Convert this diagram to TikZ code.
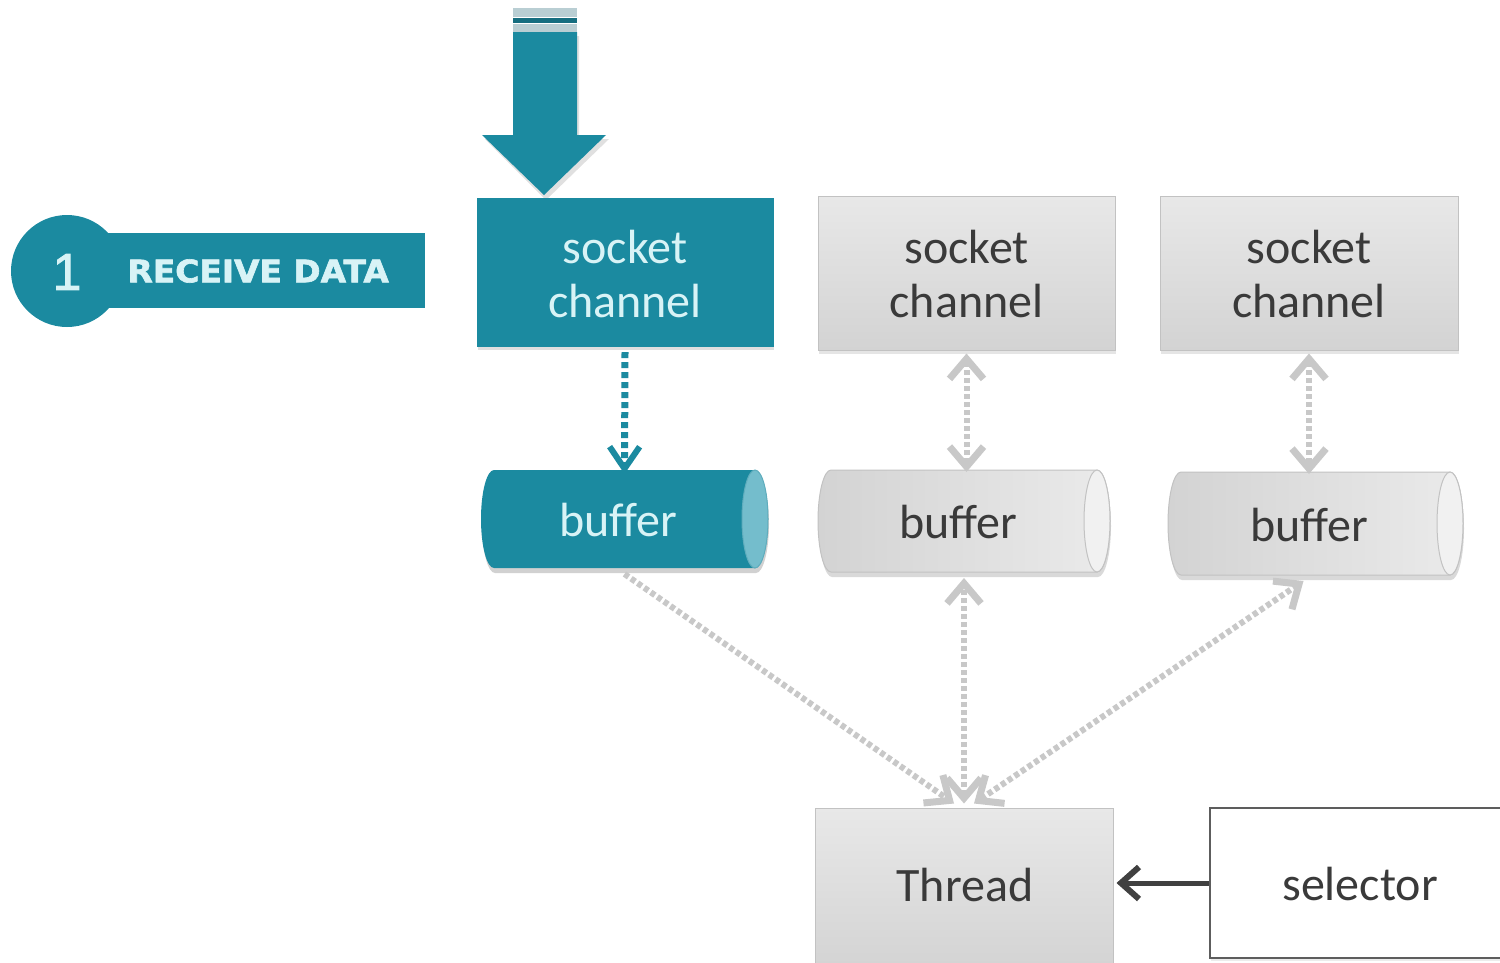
\documentclass[tikz,border=0pt]{standalone}
\usepackage{fontspec}
\usepackage{graphicx}
\setmainfont{Carlito}
\newfontfamily\badgefont[BoldFeatures={FakeBold=2}]{DejaVu Sans}
\newfontfamily\arialfont[FakeBold=1.5]{Liberation Sans}
\usetikzlibrary{arrows.meta,shadows}
\definecolor{teal1}{HTML}{1B8AA0}
\definecolor{tealtext}{HTML}{D8F3F6}
\definecolor{tealcap}{HTML}{74BDCC}
\definecolor{tealstripe}{HTML}{B9CED3}
\definecolor{gtop}{HTML}{E8E8E8}
\definecolor{gbot}{HTML}{D3D3D3}
\definecolor{gborder}{HTML}{C2C2C2}
\definecolor{gtext}{HTML}{3A3A3A}
\definecolor{garrow}{HTML}{C8C8C8}
\definecolor{darr}{HTML}{404040}
\begin{document}
\begin{tikzpicture}[x=1pt,y=-1pt,
  boxtext/.style={font=\fontsize{48}{54}\selectfont, align=center},
  tealbox/.style={fill=teal1, draw=teal1, inner sep=0, drop shadow={opacity=0.25, shadow xshift=1pt, shadow yshift=-4pt}},
  graybox/.style={top color=gtop, bottom color=gbot, draw=gborder, line width=1pt, inner sep=0, drop shadow={opacity=0.2, shadow xshift=1pt, shadow yshift=-4pt}},
  anchorbox/.style={inner sep=0, outer sep=0},
  gconn/.style={draw=garrow, line width=6pt, dash pattern=on 5pt off 3pt, {Straight Barb[length=20pt,width=34pt,line width=7pt]}-{Straight Barb[length=20pt,width=34pt,line width=7pt]}},
  gconnone/.style={draw=garrow, line width=6pt, dash pattern=on 5pt off 3pt, -{Straight Barb[length=20pt,width=34pt,line width=7pt]}},
]
\useasboundingbox (0,0) rectangle (1500,962);
\fill[white] (0,0) rectangle (1500,962);

% big incoming arrow
\fill[black, opacity=0.12] (515,36) -- (579,36) -- (579,139) -- (609,139) -- (546,200) -- (485,139) -- (515,139) -- cycle;
\fill[teal1] (513,32) -- (577,32) -- (577,135) -- (606,135) -- (544,195) -- (482,135) -- (513,135) -- cycle;
\fill[tealstripe] (513,8) rectangle (577,17);
\fill[teal1!80!black] (513,18) rectangle (577,23);
\fill[tealstripe] (513,24) rectangle (577,32);

% badge
\fill[teal1] (100,233) rectangle (425,308);
\fill[teal1] (67,271) circle[radius=56];
\node[text=tealtext, font=\arialfont\fontsize{52}{52}\selectfont] (num) at (67,272) {1};
\node[text=tealtext, anchor=west, font=\badgefont\bfseries\fontsize{31}{31}\selectfont] (recv) at (124,271) {\scalebox{1.06}[1]{RECEIVE DATA}};

% socket channels
\node[tealbox, minimum width=296pt, minimum height=148pt] (sc1) at (625,272) {};
\node[boxtext, text=tealtext] (sc1t) at (625,274) {socket\\channel};
\node[graybox, minimum width=297pt, minimum height=154pt] (sc2) at (966.5,273) {};
\node[boxtext, text=gtext] (sc2t) at (966.5,274) {socket\\channel};
\node[graybox, minimum width=298pt, minimum height=154pt] (sc3) at (1309,273) {};
\node[boxtext, text=gtext] (sc3t) at (1309,274) {socket\\channel};

% buffers
\fill[black, opacity=0.18] (495,475) -- (756,475) .. controls (763.2,475) and (769,496.9) .. (769,524) .. controls (769,551.1) and (763.2,573) .. (756,573) -- (495,573) .. controls (487.8,573) and (482,551.1) .. (482,524) .. controls (482,496.9) and (487.8,475) .. (495,475) -- cycle;
\fill[teal1] (494,470) -- (755,470) .. controls (762.2,470) and (768,491.9) .. (768,519) .. controls (768,546.1) and (762.2,568) .. (755,568) -- (494,568) .. controls (486.8,568) and (481,546.1) .. (481,519) .. controls (481,491.9) and (486.8,470) .. (494,470) -- cycle;
\filldraw[fill=tealcap, draw=teal1!70!white, line width=1pt] (755,519) ellipse[x radius=13, y radius=49];
\node[anchorbox, minimum width=287pt, minimum height=98pt] (buf1) at (624.5,519) {};
\node[boxtext, text=tealtext] (buf1t) at (618,520) {buffer};

\fill[black, opacity=0.15] (832,475) -- (1098,475) .. controls (1105.2,475) and (1111,498.2) .. (1111,526) .. controls (1111,553.8) and (1105.2,577) .. (1098,577) -- (832,577) .. controls (824.8,577) and (819,553.8) .. (819,526) .. controls (819,498.2) and (824.8,475) .. (832,475) -- cycle;
\path[left color=gbot, right color=gtop!90!white, draw=gborder, line width=1pt] (831,470) -- (1097,470) .. controls (1104.2,470) and (1110,492.8) .. (1110,521) .. controls (1110,549.2) and (1104.2,572) .. (1097,572) -- (831,572) .. controls (823.8,572) and (818,549.2) .. (818,521) .. controls (818,492.8) and (823.8,470) .. (831,470) -- cycle;
\filldraw[fill=gtop!60!white, draw=gborder, line width=1pt] (1097,521) ellipse[x radius=13, y radius=51];
\node[anchorbox, minimum width=292pt, minimum height=102pt] (buf2) at (964,521) {};
\node[boxtext, text=gtext] (buf2t) at (958,522) {buffer};

\fill[black, opacity=0.15] (1182,477) -- (1451,477) .. controls (1458.2,477) and (1464,500.1) .. (1464,528.5) .. controls (1464,556.9) and (1458.2,580) .. (1451,580) -- (1182,580) .. controls (1174.8,580) and (1169,556.9) .. (1169,528.5) .. controls (1169,500.1) and (1174.8,477) .. (1182,477) -- cycle;
\path[left color=gbot, right color=gtop!90!white, draw=gborder, line width=1pt] (1181,472) -- (1450,472) .. controls (1457.2,472) and (1463,495.1) .. (1463,523.5) .. controls (1463,551.9) and (1457.2,575) .. (1450,575) -- (1181,575) .. controls (1173.8,575) and (1168,551.9) .. (1168,523.5) .. controls (1168,495.1) and (1173.8,472) .. (1181,472) -- cycle;
\filldraw[fill=gtop!60!white, draw=gborder, line width=1pt] (1450,523.5) ellipse[x radius=13, y radius=51.5];
\node[anchorbox, minimum width=295pt, minimum height=103pt] (buf3) at (1315.5,523.5) {};
\node[boxtext, text=gtext] (buf3t) at (1309,525) {buffer};

% thread and selector
\node[graybox, minimum width=298pt, minimum height=164pt] (thread) at (964,890) {};
\node[boxtext, text=gtext] (threadt) at (965,885) {Thread};
\node[fill=white, draw=darr!85!white, line width=2.5pt, inner sep=0, minimum width=292pt, minimum height=150pt, drop shadow={opacity=0.15, shadow xshift=1pt, shadow yshift=-3pt}] (sel) at (1356,883) {};
\node[boxtext, text=gtext] (selt) at (1360,884) {selector};

% connectors
\draw[teal1, line width=7pt, dash pattern=on 6pt off 4pt, -{Straight Barb[length=22pt,width=30pt,line width=6pt]}] ([yshift=-6pt]sc1.south) -- ([yshift=-4pt]buf1.north);
\draw[gconn] ([yshift=-3pt]sc2.south) -- ([yshift=-2pt]sc2.south |- buf2.north);
\draw[gconn] ([yshift=-3pt]sc3.south) -- ([yshift=-2pt]sc3.south |- buf3.north);
\draw[gconnone] ([yshift=-6pt]buf1.south) -- ([xshift=-10pt,yshift=4pt]thread.north);
\draw[gconn] ([yshift=4pt]thread.north) -- ([yshift=-6pt]thread.north |- buf2.south);
\draw[gconn] ([xshift=10pt,yshift=4pt]thread.north) -- ([xshift=-12pt,yshift=-6pt]buf3.south);
\draw[darr, line width=5pt, -{Straight Barb[length=18pt,width=32pt,line width=6pt]}] (sel.west) -- ([xshift=3pt]sel.west -| thread.east);
\end{tikzpicture}
\end{document}
